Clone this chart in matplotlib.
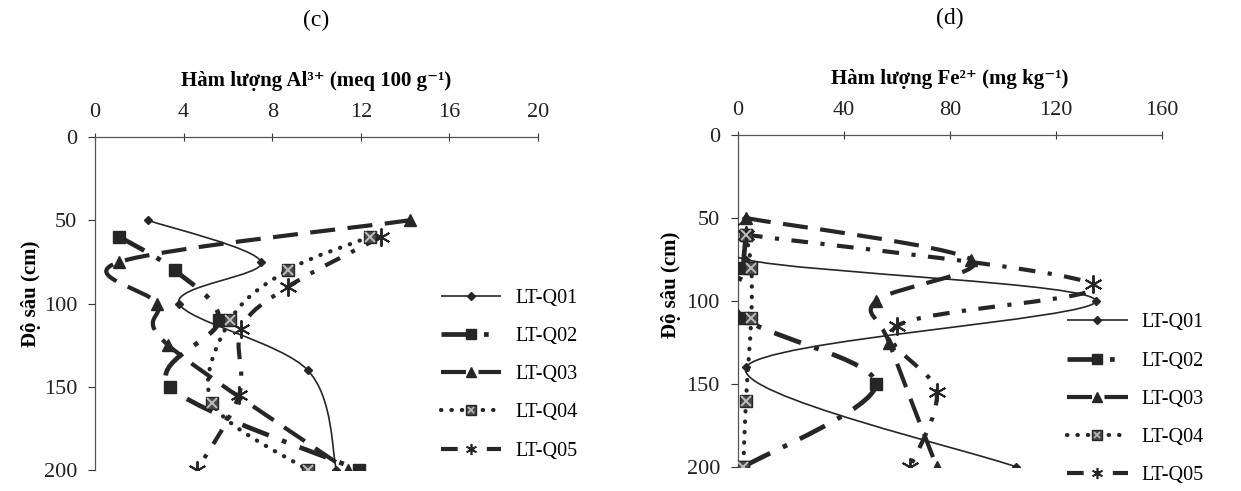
"""
Depth profiles of Al3+ (c) and Fe2+ (d) for five soil profiles LT-Q01..LT-Q05.
"""
import numpy as np
import matplotlib
matplotlib.use('Agg')
import matplotlib.pyplot as plt
from matplotlib.path import Path
from matplotlib.patches import PathPatch
from matplotlib.lines import Line2D

SERIF = ['Liberation Serif', 'DejaVu Serif']
plt.rcParams['font.family'] = SERIF

INK = '#262626'

# --- data --------------------------------------------------------------
series = ['LT-Q01', 'LT-Q02', 'LT-Q03', 'LT-Q04', 'LT-Q05']

# sampling depth (cm) of each profile
depth_q01 = [50, 75, 100, 140, 200]
depth_q02 = [60, 80, 110, 150, 200]
depth_q03 = [50, 75, 100, 125, 200]
depth_q04 = [60, 80, 110, 160, 200]
depth_q05 = [60, 90, 115, 155, 200]

# Al3+ (meq 100 g-1)
al_q01 = [2.4, 7.5, 3.8, 9.6, 10.9]
al_q02 = [1.1, 3.6, 5.6, 3.4, 11.9]
al_q03 = [14.2, 1.1, 2.8, 3.3, 11.4]
al_q04 = [12.4, 8.7, 6.1, 5.3, 9.6]
al_q05 = [12.9, 8.7, 6.6, 6.5, 4.6]

# Fe2+ (mg kg-1)
fe_q01 = [3, 3, 135, 3, 105]
fe_q02 = [3, 2, 2, 52, 2]
fe_q03 = [3, 88, 52, 57, 75]
fe_q04 = [3, 5, 5, 3, 2]
fe_q05 = [3, 134, 60, 75, 65]

depths = [depth_q01, depth_q02, depth_q03, depth_q04, depth_q05]
al_vals = [al_q01, al_q02, al_q03, al_q04, al_q05]
fe_vals = [fe_q01, fe_q02, fe_q03, fe_q04, fe_q05]

# line / marker styles per profile
styles = [
    dict(lw=1.2, dashes=None, cap='butt', marker='D', ms=4),
    dict(lw=3.4, dashes=(6, 3, 1, 3), cap='butt', marker='s', ms=9),
    dict(lw=3.0, dashes=(6, 3), cap='butt', marker='^', ms=9),
    dict(lw=3.0, dashes=(0.1, 2.4), cap='round', marker='s', ms=9),
    dict(lw=3.0, dashes=(4, 3, 1, 3), cap='butt', marker=(6, 2, 0), ms=13),
]


def smooth_path(xs, ys):
    # Excel-like smoothed line: Catmull-Rom segments as cubic Beziers
    pts = np.column_stack([xs, ys]).astype(float)
    n = len(pts)
    verts = [pts[0]]
    codes = [Path.MOVETO]
    for i in range(n - 1):
        p0 = pts[i - 1] if i > 0 else pts[i]
        p1, p2 = pts[i], pts[i + 1]
        p3 = pts[i + 2] if i + 2 < n else pts[i + 1]
        verts += [p1 + (p2 - p0) / 6, p2 - (p3 - p1) / 6, p2]
        codes += [Path.CURVE4] * 3
    return Path(verts, codes)


def draw_markers(ax, k, x, y):
    st = styles[k]
    if k == 3:
        ax.plot(x, y, ls='none', marker='s', ms=st['ms'], mfc='#4a4a4a',
                mec=INK, mew=1, zorder=4)
        ax.plot(x, y, ls='none', marker='x', ms=st['ms'] - 2, mec='#bdbdbd',
                mew=1.4, zorder=5)
    elif k == 4:
        ax.plot(x, y, ls='none', marker=st['marker'], ms=st['ms'], mec=INK,
                mew=1.4, zorder=4)
    else:
        ax.plot(x, y, ls='none', marker=st['marker'], ms=st['ms'], mfc=INK,
                mec=INK, zorder=4)


def legend_handle(k):
    st = styles[k]
    ls = '-' if st['dashes'] is None else (0, st['dashes'])
    base = dict(color=INK, lw=st['lw'], ls=ls, solid_capstyle=st['cap'],
                dash_capstyle=st['cap'])
    if k == 3:
        return (Line2D([], [], marker='s', ms=7, mfc='#4a4a4a', mec=INK, **base),
                Line2D([], [], ls='none', marker='x', ms=5, mec='#bdbdbd', mew=1.2))
    if k == 4:
        return Line2D([], [], marker=st['marker'], ms=8, mec=INK, mew=1.2, **base)
    return Line2D([], [], marker=st['marker'], ms=min(st['ms'], 7), mfc=INK,
                  mec=INK, **base)


def draw_panel(ax, values, xmax, xstep, xlabel, title, ylabel_xy):
    for k in range(len(series)):
        st = styles[k]
        ls = '-' if st['dashes'] is None else (0, st['dashes'])
        patch = PathPatch(smooth_path(values[k], depths[k]), fill=False,
                          edgecolor=INK, lw=st['lw'], linestyle=ls,
                          capstyle=st['cap'], zorder=3)
        ax.add_patch(patch)
        draw_markers(ax, k, values[k], depths[k])

    ax.set_xlim(0, xmax)
    ax.set_ylim(200, 0)
    ax.set_xticks(np.arange(0, xmax + 1, xstep))
    ax.set_yticks(np.arange(0, 201, 50))
    ax.xaxis.tick_top()
    ax.xaxis.set_label_position('top')
    for side in ['right', 'bottom']:
        ax.spines[side].set_visible(False)
    for side in ['left', 'top']:
        ax.spines[side].set_color('#555555')
        ax.spines[side].set_linewidth(0.9)
    ax.tick_params(axis='x', direction='inout', length=6, pad=8,
                   labelsize=16, colors='#333333', labelcolor='#222222')
    ax.tick_params(axis='y', direction='out', length=5, pad=8,
                   labelsize=16, colors='#333333', labelcolor='#222222')
    ax.set_xlabel(xlabel, fontsize=15, fontweight='bold', labelpad=12)
    ax.set_ylabel('Độ sâu (cm)', fontsize=15, fontweight='bold')
    ax.yaxis.set_label_coords(*ylabel_xy)
    ax.text(0.5, 1.35, title, transform=ax.transAxes, ha='center',
            va='center', fontsize=17)
    ax.patch.set_alpha(0)


fig = plt.figure(figsize=(12.41, 4.91), dpi=100)
ax1 = fig.add_axes([0.0766, 0.0428, 0.3569, 0.678])
ax2 = fig.add_axes([0.5947, 0.0489, 0.3417, 0.676])

draw_panel(ax1, al_vals, 20, 4, 'Hàm lượng Al³⁺ (meq 100 g⁻¹)', '(c)',
           (-0.122, 0.53))
draw_panel(ax2, fe_vals, 160, 40, 'Hàm lượng Fe²⁺ (mg kg⁻¹)', '(d)',
           (-0.134, 0.55))

handles = [legend_handle(k) for k in range(len(series))]
leg_kw = dict(frameon=False, fontsize=14.5, handlelength=3.0, handletextpad=0.7,
              labelspacing=0.95, borderpad=0, borderaxespad=0, loc='upper left',
              bbox_transform=fig.transFigure)
fig.legend(handles, series, bbox_to_anchor=(0.355, 0.412), **leg_kw)
fig.legend(handles, series, bbox_to_anchor=(0.860, 0.362), **leg_kw)

fig.savefig('out.png', dpi=100, facecolor='white')
plt.close(fig)
